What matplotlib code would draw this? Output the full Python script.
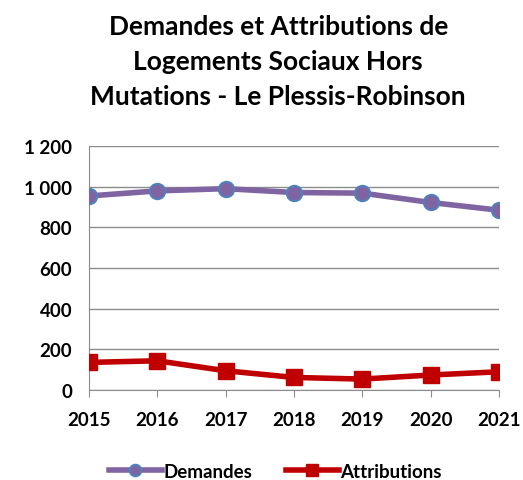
import matplotlib
matplotlib.use("Agg")
import matplotlib.pyplot as plt
from matplotlib.ticker import FuncFormatter

years = ["2015", "2016", "2017", "2018", "2019", "2020", "2021"]
demandes = [955, 980, 991, 972, 969, 923, 885]
attributions = [136, 144, 95, 62, 54, 74, 90]

plt.rcParams["font.family"] = ["Lato", "DejaVu Sans"]

fig = plt.figure(figsize=(5.23, 4.81), dpi=100)
ax = fig.add_axes([0.170, 0.187, 0.784, 0.507])

x = range(len(years))
ax.plot(x, demandes, color="#8064A2", lw=4, marker="o", ms=11,
        mfc="#8064A2", mec="#4F81BD", mew=1.5, label="Demandes", zorder=3)
ax.plot(x, attributions, color="#C00000", lw=4, marker="s", ms=11,
        mfc="#C00000", mec="#C00000", label="Attributions", zorder=3)

ax.set_xlim(0, len(years) - 1)
ax.set_ylim(0, 1200)
ax.set_yticks(range(0, 1201, 200))
ax.yaxis.set_major_formatter(FuncFormatter(lambda v, p: f"{int(v):,}".replace(",", " ")))
ax.set_xticks(list(x))
ax.set_xticklabels(years)
ax.grid(axis="y", color="#8c8c8c", lw=1)
ax.set_axisbelow(True)
for s in ["top", "right"]:
    ax.spines[s].set_visible(False)
ax.spines["left"].set_color("#8c8c8c")
ax.spines["bottom"].set_color("#8c8c8c")
ax.tick_params(axis="y", length=0, pad=12, labelsize=13.5)
ax.tick_params(axis="x", length=5, color="#8c8c8c", pad=10, labelsize=13.5)
for lab in ax.get_xticklabels() + ax.get_yticklabels():
    lab.set_fontweight("bold")

fig.text(0.532, 0.871, "Demandes et Attributions de\nLogements Sociaux Hors\nMutations - Le Plessis-Robinson",
         ha="center", va="center", fontsize=19, fontweight="bold", linespacing=1.55)

fig.legend(loc="lower center", bbox_to_anchor=(0.527, -0.035), ncol=2, frameon=False,
           prop={"size": 13.5, "weight": "bold"}, handlelength=2.8, columnspacing=1.8,
           handletextpad=0.1, markerscale=0.75)

plt.savefig("out.png", dpi=100)
